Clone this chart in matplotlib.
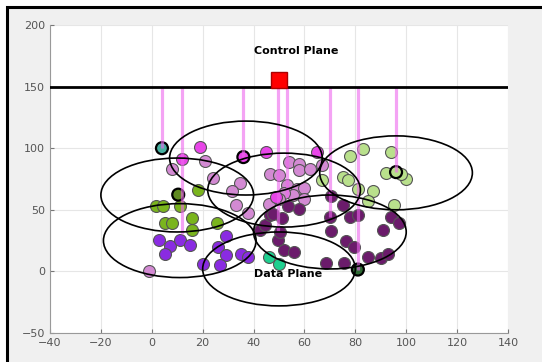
"""Control plane / data plane clustering scatter."""

import matplotlib

matplotlib.use("Agg")
import matplotlib.pyplot as plt
from matplotlib.patches import Ellipse, Rectangle

# node positions per group
light_green_x = [78, 83, 94, 92, 100, 98, 75, 77, 81, 87, 85, 95, 67]
light_green_y = [94, 99, 97, 80, 75, 79, 77, 74, 67, 65, 57, 54, 74]

yellow_green_x = [18, 1.5, 4.5, 11, 5, 8, 15.7, 15.7, 25.5]
yellow_green_y = [66, 53, 53, 53, 39.5, 39.5, 43, 33.5, 39.5]

violet_x = [3, 7, 11, 15, 5, 29, 26, 29, 35, 38, 20, 27]
violet_y = [25.5, 21, 25.5, 21.5, 14.5, 29, 20, 13, 14, 11.5, 6, 5]

orchid_x = [8, 21, 24, 34.5, 31.5, 33, 38, 46.5, 50, 54, 58, 58, 62, 67,
            53, 57, 60, 55.6, 46, 52, 50, 60, -1]
orchid_y = [83, 89.5, 76, 72, 65, 54, 47, 79, 78, 89, 87, 82, 83.5, 86,
            70, 67, 68, 62, 55, 64, 59, 59, 0]

magenta_x = [12, 19, 45, 65, 49]
magenta_y = [91, 101, 97, 97, 60]

dark_purple_x = [70.5, 75, 58, 53.5, 70, 78, 81, 94, 97, 91, 70.5, 76.5,
                 79.5, 49.5, 52, 56, 68.5, 75.5, 85, 90, 93, 42.5, 44.5,
                 50.4, 46.5, 51, 47.8]
dark_purple_y = [61, 54, 51, 53, 44.5, 44.5, 46, 44.5, 39, 34, 32.5, 24.5,
                 20, 25.5, 17.5, 16, 6.5, 6.5, 12, 11, 14, 33.3, 37.3,
                 32, 45.5, 43, 46.8]

teal_x = [46, 50]
teal_y = [11.6, 6]

# cluster heads (black edged)
head_x = [4, 10.4, 36, 81, 96]
head_y = [100, 62.3, 92.8, 1.5, 80.6]
head_colors = ["#48b0a0", "#5f8a20", "#e845e8", "#2e6b34", "#b9e08c"]

# links from heads up to the control plane
link_x = [4, 12, 36, 49.5, 53, 70, 81, 96]
link_y = [100, 30, 92.8, 33, 60, 44.5, 1.5, 80.6]

# coverage circles (centre x, centre y), radius 30
circle_x = [37, 10, 11, 50, 96, 52, 70]
circle_y = [92, 62, 25, 2, 80, 66, 32]
radius = 30

controller_x, controller_y = 50, 155
plane_y = 150

fig = plt.figure(figsize=(5.42, 3.62), dpi=100)
fig.patch.set_facecolor("white")
fig.add_artist(Rectangle((7 / 542, -0.1), 1.2, 1.1 - 7 / 362,
                         transform=fig.transFigure, facecolor="#f0f0f0",
                         edgecolor="black", linewidth=2.2, zorder=0))

ax = fig.add_axes([50 / 542, 1 - 333 / 362, 458 / 542, 308 / 362])
ax.set_facecolor("white")

groups = [
    (light_green_x, light_green_y, "#b9e08c"),
    (yellow_green_x, yellow_green_y, "#7ab51d"),
    (violet_x, violet_y, "#8a2be2"),
    (orchid_x, orchid_y, "#d38ad3"),
    (magenta_x, magenta_y, "#e845e8"),
    (dark_purple_x, dark_purple_y, "#6b1b6b"),
    (teal_x, teal_y, "#1ecf8f"),
]
for gx, gy, c in groups:
    ax.scatter(gx, gy, s=74, color=c, edgecolors="#555555",
               linewidths=0.8, zorder=3)
ax.scatter(head_x, head_y, s=74, color=head_colors, edgecolors="black",
           linewidths=1.6, zorder=4)

ax.vlines(link_x, link_y, plane_y, colors="#ee66ee", linewidth=2.3,
          alpha=0.6, zorder=5)

for cx, cy in zip(circle_x, circle_y):
    ax.add_patch(Ellipse((cx, cy), 2 * radius, 2 * radius, fill=False,
                         edgecolor="black", linewidth=1.2, zorder=6))

ax.axhline(plane_y, color="black", linewidth=2, zorder=6)
ax.plot(controller_x, controller_y, "s", markersize=12,
        markerfacecolor="red", markeredgecolor="#aa0000", zorder=7)

ax.text(40, 179, "Control Plane", fontsize=8, fontweight="bold",
        ha="left", va="center", zorder=8)
ax.text(40, -2, "Data Plane", fontsize=8, fontweight="bold",
        ha="left", va="center", zorder=8)

ax.set_xlim(-40, 140)
ax.set_ylim(-50, 200)
ax.set_xticks(range(-40, 141, 20))
ax.set_yticks(range(-50, 201, 50))
ax.grid(True, color="#e6e6e6", linewidth=0.8, zorder=0)
ax.set_axisbelow(True)
for side in ["top", "right"]:
    ax.spines[side].set_visible(False)
for side in ["left", "bottom"]:
    ax.spines[side].set_color("#999999")
ax.tick_params(direction="in", length=3, labelsize=8, colors="#777777",
               labelcolor="#555555")

fig.savefig("out.png", dpi=100)
